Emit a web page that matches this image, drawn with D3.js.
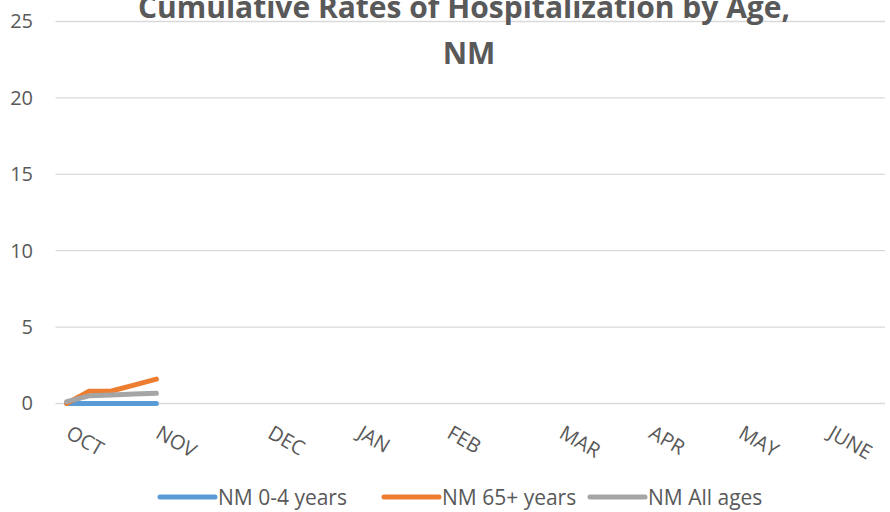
<!DOCTYPE html>
<html>
<head>
<meta charset="utf-8">
<script src="https://cdn.jsdelivr.net/npm/d3@7"></script>
<style>
  body { margin: 0; background: #fff; }
  text { font-family: "Open Sans", Lato, sans-serif; fill: #595959; }
</style>
</head>
<body>
<script>
// data (weekly categories, only month starts get a label)
var nWeeks = 37;
var monthLabels = ["OCT", "NOV", "DEC", "JAN", "FEB", "MAR", "APR", "MAY", "JUNE"];
var monthWeek = [0, 4, 9, 13, 17, 22, 26, 30, 34];
var yTicks = [0, 5, 10, 15, 20, 25];

var seriesNames = ["NM 0-4 years", "NM 65+ years", "NM All ages"];
var kids = [0, 0, 0, 0, 0];
var seniors = [0, 0.8, 0.82, 1.2, 1.6];
var allAges = [0.12, 0.5, 0.56, 0.62, 0.67];
var colors = ["#5B9BD5", "#ED7D31", "#A5A5A5"];

// svg
var w_svg = 890;
var h_svg = 512;
var svg = d3.select("body").append("svg")
            .attr("width", w_svg)
            .attr("height", h_svg);

// scales
var weeks = d3.range(nWeeks);
var xScale = d3.scaleBand().domain(weeks).range([55.5, 885]);
var yScale = d3.scaleLinear().domain([0, 25]).range([403.5, 21.5]);
function xc(i) { return xScale(i) + xScale.bandwidth() / 2; }

// gridlines
svg.append("g").selectAll("line")
   .data(yTicks).enter().append("line")
   .attr("x1", 55.5).attr("x2", 885)
   .attr("y1", function(d) { return yScale(d); })
   .attr("y2", function(d) { return yScale(d); })
   .attr("stroke", "#D9D9D9")
   .attr("stroke-width", 1.3);

// y axis labels
var y_axis = d3.axisLeft(yScale).tickValues(yTicks).tickSize(0).tickPadding(0);
var gy = svg.append("g").attr("transform", "translate(33,0)").call(y_axis);
gy.select(".domain").remove();
gy.selectAll("text").style("font-size", "20px").attr("fill", "#595959")
  .style("font-family", "'Open Sans', sans-serif");

// x labels, rotated
svg.selectAll("text.month")
   .data(monthLabels).enter().append("text")
   .attr("class", "month")
   .text(function(d) { return d; })
   .attr("transform", function(d, i) {
      return "translate(" + (xc(monthWeek[i]) - 2) + ",437) rotate(30)"; })
   .style("font-size", "20px");

// lines
var line = d3.line()
   .x(function(d, i) { return xc(i); })
   .y(function(d) { return yScale(d); });

var allSeries = [kids, seniors, allAges];
svg.selectAll("path.series")
   .data(allSeries).enter().append("path")
   .attr("class", "series")
   .attr("d", line)
   .attr("fill", "none")
   .attr("stroke", function(d, i) { return colors[i]; })
   .attr("stroke-width", 5)
   .attr("stroke-linecap", "round")
   .attr("stroke-linejoin", "round");

// title
svg.append("text").attr("x", 464).attr("y", 18)
   .attr("text-anchor", "middle")
   .style("font-size", "30px").style("font-weight", "bold")
   .text("Cumulative Rates of Hospitalization by Age,");
svg.append("text").attr("x", 469).attr("y", 64)
   .attr("text-anchor", "middle")
   .style("font-size", "30px").style("font-weight", "bold")
   .text("NM");

// legend
var legX = [160, 384, 590];
var leg = svg.selectAll("g.leg")
   .data(seriesNames).enter().append("g")
   .attr("class", "leg")
   .attr("transform", function(d, i) { return "translate(" + legX[i] + ",497)"; });
leg.append("line")
   .attr("x1", 0).attr("x2", 55)
   .attr("stroke", function(d, i) { return colors[i]; })
   .attr("stroke-width", 5)
   .attr("stroke-linecap", "round");
leg.append("text")
   .attr("x", 58).attr("y", 7.5)
   .style("font-size", "21px")
   .text(function(d) { return d; });
</script>
</body>
</html>
